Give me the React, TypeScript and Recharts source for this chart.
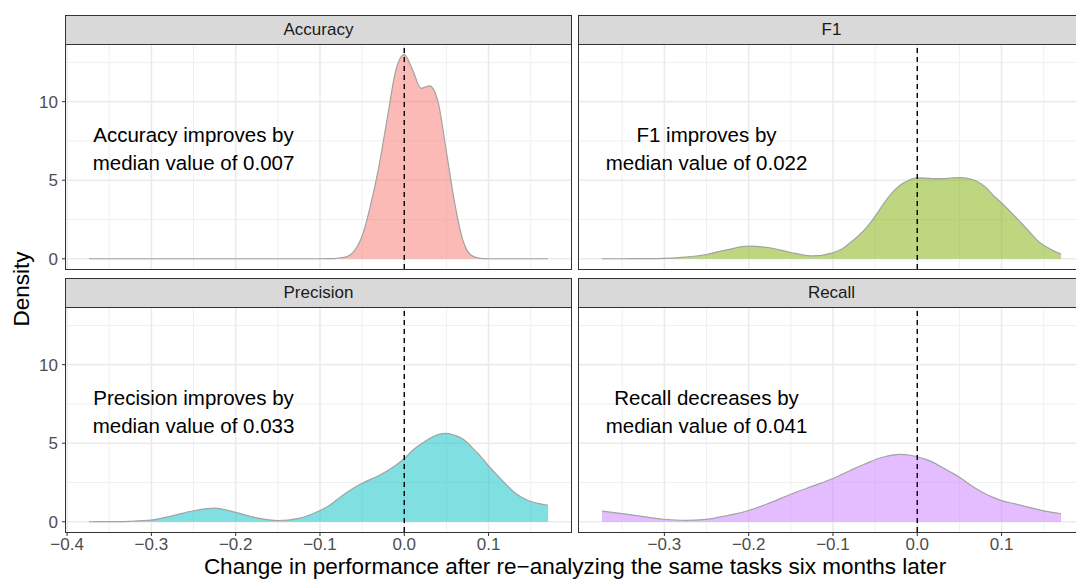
import React from "react";
import {
  ComposedChart,
  Area,
  XAxis,
  YAxis,
  CartesianGrid,
  ReferenceLine,
  ReferenceDot,
} from "recharts";

// density sample points (change in performance)
const xs = [
  -0.374, -0.35, -0.325, -0.3, -0.275, -0.25, -0.225, -0.2, -0.175, -0.15,
  -0.125, -0.1, -0.09, -0.08, -0.07, -0.06, -0.05, -0.04, -0.03, -0.02, -0.01,
  0, 0.01, 0.02, 0.03, 0.04, 0.05, 0.06, 0.07, 0.08, 0.09, 0.1, 0.115, 0.13,
  0.145, 0.16, 0.1706,
];

const accuracy = [
  0, 0, 0, 0, 0, 0, 0, 0, 0, 0, 0, 0.002, 0.01, 0.03, 0.1, 0.45, 1.45, 3.4,
  5.9, 9.0, 12.0, 13.0, 12.0, 10.85, 11.0, 10.0, 6.8, 3.5, 1.1, 0.2, 0.03,
  0.003, 0, 0, 0, 0, 0,
];

const f1 = [
  0, 0.002, 0.01, 0.03, 0.1, 0.27, 0.58, 0.8, 0.7, 0.4, 0.18, 0.38, 0.6, 1.0,
  1.45, 2.0, 2.7, 3.5, 4.2, 4.7, 5.0, 5.15, 5.13, 5.1, 5.1, 5.14, 5.17, 5.12,
  4.95, 4.6, 4.05, 3.55, 2.75, 1.9, 1.05, 0.55, 0.3,
];

const precision = [
  0, 0.01, 0.03, 0.1, 0.38, 0.7, 0.87, 0.6, 0.25, 0.08, 0.22, 0.72, 1.0, 1.4,
  1.8, 2.15, 2.45, 2.7, 2.95, 3.25, 3.6, 4.03, 4.55, 4.95, 5.3, 5.55, 5.63,
  5.5, 5.25, 4.75, 4.2, 3.55, 2.7, 1.9, 1.4, 1.15, 1.05,
];

const recall = [
  0.68, 0.52, 0.33, 0.16, 0.09, 0.15, 0.4, 0.72, 1.2, 1.75, 2.25, 2.75, 3.0,
  3.25, 3.5, 3.72, 3.95, 4.12, 4.24, 4.29, 4.25, 4.14, 3.97, 3.75, 3.45, 3.15,
  2.84, 2.45, 2.1, 1.8, 1.55, 1.35, 1.15, 0.95, 0.76, 0.6, 0.51,
];

const xTicks = [-0.4, -0.3, -0.2, -0.1, 0, 0.1];
const xMinor = [-0.35, -0.25, -0.15, -0.05, 0.05, 0.15];
const yTicks = [0, 5, 10];
const yMinor = [2.5, 7.5, 12.5];

const accuracyNote = ["Accuracy improves by", "median value of 0.007"];
const f1Note = ["F1 improves by", "median value of 0.022"];
const precisionNote = ["Precision improves by", "median value of 0.033"];
const recallNote = ["Recall decreases by", "median value of 0.041"];

const rows = xs.map((x, i) => ({
  x,
  accuracy: accuracy[i],
  f1: f1[i],
  precision: precision[i],
  recall: recall[i],
}));

const panels = [
  { key: "accuracy", title: "Accuracy", fill: "#F8766D", note: accuracyNote, row: 0, col: 0 },
  { key: "f1", title: "F1", fill: "#7CAE00", note: f1Note, row: 0, col: 1 },
  { key: "precision", title: "Precision", fill: "#00BFC4", note: precisionNote, row: 1, col: 0 },
  { key: "recall", title: "Recall", fill: "#C77CFF", note: recallNote, row: 1, col: 1 },
];

const FONT = "'Liberation Sans', Arial, Helvetica, sans-serif";
const X_DOMAIN = [-0.4013, 0.1978];
const Y_DOMAIN = [-0.651, 13.67];
const PLOT_W = 505;
const PLOT_H = 225;
const colLeft = [66, 579];
const rowTop = [44, 307];
const STRIP_H = 29;

const fmt = (v: number) => (v < 0 ? "\u2212" : "") + Math.abs(v).toFixed(1);

function noteLabel(lines: string[]) {
  return (props: any) => {
    const vb = props.viewBox || {};
    const cx = vb.x + (vb.width || 0) / 2;
    const cy = vb.y + (vb.height || 0) / 2;
    return (
      <text
        x={cx}
        y={cy}
        textAnchor="middle"
        fontSize={20.5}
        fontFamily={FONT}
        fill="#000"
      >
        <tspan x={cx} y={cy - 7}>{lines[0]}</tspan>
        <tspan x={cx} y={cy + 21.5}>{lines[1]}</tspan>
      </text>
    );
  };
}

function Panel({ p }: { p: (typeof panels)[number] }) {
  const showY = p.col === 0;
  const showX = p.row === 1;
  const left = colLeft[p.col] - (showY ? 60 : 0);
  const width = PLOT_W + (showY ? 60 : 0);
  const height = PLOT_H + (showX ? 30 : 0);
  const tickStyle = { fill: "#4D4D4D", fontSize: 17, fontFamily: FONT };

  return (
    <div style={{ position: "absolute", left, top: rowTop[p.row] }}>
      <ComposedChart
        width={width}
        height={height}
        data={rows}
        margin={{ top: 0, right: 0, bottom: 0, left: 0 }}
      >
        <CartesianGrid
          verticalValues={xMinor}
          horizontalValues={yMinor}
          stroke="#F0F0F0"
          strokeWidth={1}
          fill="none"
        />
        <CartesianGrid
          verticalValues={xTicks}
          horizontalValues={yTicks}
          stroke="#EBEBEB"
          strokeWidth={1.6}
          fill="none"
        />
        <XAxis
          type="number"
          dataKey="x"
          domain={X_DOMAIN}
          ticks={xTicks}
          allowDataOverflow
          hide={!showX}
          height={30}
          tickFormatter={fmt}
          tick={tickStyle}
          tickSize={4}
          tickMargin={2}
          axisLine={false}
          tickLine={{ stroke: "#333333" }}
        />
        <YAxis
          type="number"
          domain={Y_DOMAIN}
          ticks={yTicks}
          allowDataOverflow
          hide={!showY}
          width={60}
          tick={tickStyle}
          tickSize={4}
          tickMargin={4}
          axisLine={false}
          tickLine={{ stroke: "#333333" }}
        />
        <Area
          type="monotone"
          dataKey={p.key}
          baseValue={0}
          fill={p.fill}
          fillOpacity={0.5}
          stroke="#A3A3A3"
          strokeWidth={1.2}
          dot={false}
          activeDot={false}
          isAnimationActive={false}
        />
        <ReferenceLine
          x={0}
          stroke="#000"
          strokeWidth={1.4}
          strokeDasharray="5 4"
        />
        <ReferenceDot
          x={-0.25}
          y={7}
          r={0}
          fill="none"
          stroke="none"
          label={{ content: noteLabel(p.note) }}
        />
      </ComposedChart>
    </div>
  );
}

function Frame({ p }: { p: (typeof panels)[number] }) {
  const left = colLeft[p.col] - 1;
  const top = rowTop[p.row];
  return (
    <>
      <div
        style={{
          position: "absolute",
          left,
          top: top - STRIP_H,
          width: PLOT_W + 2,
          height: STRIP_H + 1,
          boxSizing: "border-box",
          border: "1.3px solid #333333",
          background: "#D9D9D9",
          color: "#1A1A1A",
          fontFamily: FONT,
          fontSize: 17,
          lineHeight: `${STRIP_H - 2}px`,
          textAlign: "center",
        }}
      >
        {p.title}
      </div>
      <div
        style={{
          position: "absolute",
          left,
          top,
          width: PLOT_W + 2,
          height: PLOT_H + 1,
          boxSizing: "border-box",
          border: "1.3px solid #333333",
          pointerEvents: "none",
        }}
      />
    </>
  );
}

export default function App() {
  return (
    <div
      style={{
        position: "absolute",
        left: 0,
        top: 0,
        width: 1076,
        height: 581,
        overflow: "hidden",
        background: "#fff",
      }}
    >
      {panels.map((p) => (
        <Panel key={p.key} p={p} />
      ))}
      {panels.map((p) => (
        <Frame key={p.key + "-frame"} p={p} />
      ))}
      <div
        style={{
          position: "absolute",
          left: 22,
          top: 289,
          transform: "translate(-50%, -50%) rotate(-90deg)",
          fontFamily: FONT,
          fontSize: 22.5,
          color: "#000",
          whiteSpace: "nowrap",
        }}
      >
        Density
      </div>
      <div
        style={{
          position: "absolute",
          left: 575,
          top: 567,
          transform: "translate(-50%, -50%)",
          fontFamily: FONT,
          fontSize: 22.5,
          color: "#000",
          whiteSpace: "nowrap",
        }}
      >
        Change in performance after re{"\u2212"}analyzing the same tasks six months later
      </div>
    </div>
  );
}
